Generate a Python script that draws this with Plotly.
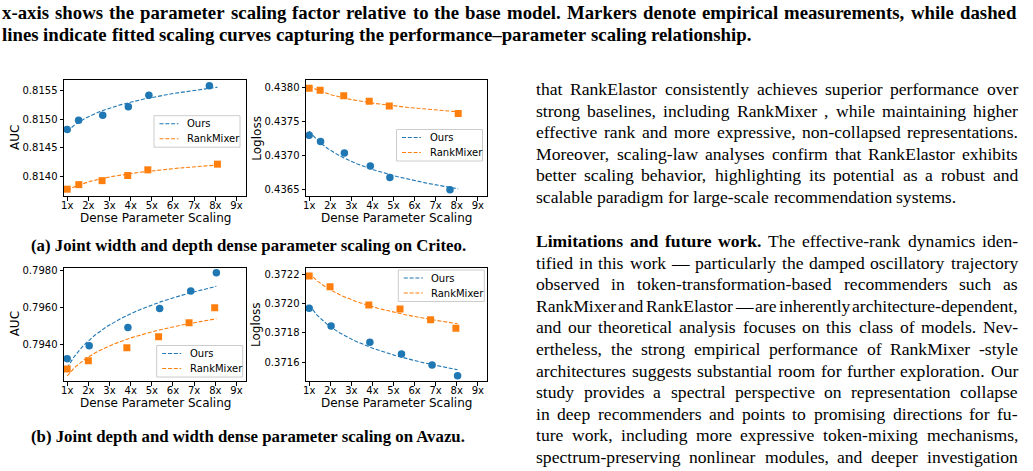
import numpy as np
import plotly.graph_objects as go

W, H = 1033, 471

# ---------------- data ----------------
x_tick_vals = [1, 2, 3, 4, 5, 6, 7, 8, 9]
x_tick_text = ["1x", "2x", "3x", "4x", "5x", "6x", "7x", "8x", "9x"]

# (a) Criteo - AUC
criteo_auc_ours_x = [1.0, 1.54, 2.68, 3.89, 4.86, 7.72]
criteo_auc_ours_y = [0.81482, 0.81498, 0.81507, 0.81522, 0.81542, 0.81559]
criteo_auc_rm_x = [1.0, 1.55, 2.65, 3.86, 4.81, 8.10]
criteo_auc_rm_y = [0.81377, 0.81385, 0.81392, 0.81401, 0.81411, 0.81421]

# (a) Criteo - Logloss
criteo_ll_ours_x = [1.0, 1.54, 2.67, 3.90, 4.83, 7.68]
criteo_ll_ours_y = [0.43730, 0.43721, 0.43704, 0.43685, 0.43668, 0.43650]
criteo_ll_rm_x = [1.0, 1.52, 2.64, 3.85, 4.80, 8.07]
criteo_ll_rm_y = [0.43799, 0.43796, 0.43788, 0.43780, 0.43773, 0.43762]

# (b) Avazu - AUC
avazu_auc_ours_x = [1.0, 2.04, 3.87, 5.37, 6.84, 8.05]
avazu_auc_ours_y = [0.79323, 0.79393, 0.79491, 0.79594, 0.79687, 0.79786]
avazu_auc_rm_x = [1.0, 2.00, 3.82, 5.32, 6.76, 7.97]
avazu_auc_rm_y = [0.79267, 0.79312, 0.79382, 0.79441, 0.79517, 0.79598]

# (b) Avazu - Logloss
avazu_ll_ours_x = [1.0, 2.04, 3.88, 5.38, 6.83, 8.04]
avazu_ll_ours_y = [0.371967, 0.371847, 0.371736, 0.371657, 0.371582, 0.371509]
avazu_ll_rm_x = [1.0, 1.99, 3.83, 5.31, 6.76, 7.96]
avazu_ll_rm_y = [0.372186, 0.372114, 0.371989, 0.371962, 0.371890, 0.371831]

criteo_auc_ticks = [0.8140, 0.8145, 0.8150, 0.8155]
criteo_ll_ticks = [0.4365, 0.4370, 0.4375, 0.4380]
avazu_auc_ticks = [0.7940, 0.7960, 0.7980]
avazu_ll_ticks = [0.3716, 0.3718, 0.3720, 0.3722]

series_names = ["Ours", "RankMixer"]

caption_top = [
    "x-axis shows the parameter scaling factor relative to the base model. Markers denote empirical measurements, while dashed",
    "lines indicate fitted scaling curves capturing the performance\u2013parameter scaling relationship.",
]
caption_a = "(a) Joint width and depth dense parameter scaling on Criteo."
caption_b = "(b) Joint depth and width dense parameter scaling on Avazu."

para1 = [
    "that RankElastor consistently achieves superior performance over",
    "strong baselines, including RankMixer , while maintaining higher",
    "effective rank and more expressive, non-collapsed representations.",
    "Moreover, scaling-law analyses confirm that RankElastor exhibits",
    "better scaling behavior, highlighting its potential as a robust and",
    "scalable paradigm for large-scale recommendation systems.",
]
para2 = [
    "<b>Limitations and future work.</b> The effective-rank dynamics iden-",
    "tified in this work \u2014 particularly the damped oscillatory trajectory",
    "observed in token-transformation-based recommenders such as",
    "RankMixer and RankElastor \u2014 are inherently architecture-dependent,",
    "and our theoretical analysis focuses on this class of models. Nev-",
    "ertheless, the strong empirical performance of RankMixer -style",
    "architectures suggests substantial room for further exploration. Our",
    "study provides a spectral perspective on representation collapse",
    "in deep recommenders and points to promising directions for fu-",
    "ture work, including more expressive token-mixing mechanisms,",
    "spectrum-preserving nonlinear modules, and deeper investigation",
]

# ---------------- helpers ----------------
BLUE = "#1f77b4"
ORANGE = "#ff7f0e"
CHART_FONT = "DejaVu Sans"
TEXT_FONT = "Liberation Serif"

# Times-compatible advance widths (per 1000 em) used to justify text lines
_REG = {' ': 250, ',': 250, '-': 333, '.': 250, ':': 278, ';': 278, '(': 333, ')': 333,
        '\u2014': 1000, '\u2013': 500,
        'A': 722, 'B': 667, 'C': 667, 'D': 722, 'E': 611, 'F': 556, 'G': 722, 'H': 722,
        'I': 333, 'J': 389, 'K': 722, 'L': 611, 'M': 889, 'N': 722, 'O': 722, 'P': 556,
        'Q': 722, 'R': 667, 'S': 556, 'T': 611, 'U': 722, 'V': 722, 'W': 944, 'X': 722,
        'Y': 722, 'Z': 611,
        'a': 444, 'b': 500, 'c': 444, 'd': 500, 'e': 444, 'f': 333, 'g': 500, 'h': 500,
        'i': 278, 'j': 278, 'k': 500, 'l': 278, 'm': 778, 'n': 500, 'o': 500, 'p': 500,
        'q': 500, 'r': 333, 's': 389, 't': 278, 'u': 500, 'v': 500, 'w': 722, 'x': 500,
        'y': 500, 'z': 444}
_BOLD = {' ': 250, ',': 250, '-': 333, '.': 250, ':': 333, ';': 333, '(': 333, ')': 333,
         '\u2014': 1000, '\u2013': 500,
         'A': 722, 'B': 667, 'C': 722, 'D': 722, 'E': 667, 'F': 611, 'G': 778, 'H': 778,
         'I': 389, 'J': 500, 'K': 778, 'L': 667, 'M': 944, 'N': 722, 'O': 778, 'P': 611,
         'Q': 778, 'R': 722, 'S': 556, 'T': 667, 'U': 722, 'V': 722, 'W': 1000, 'X': 722,
         'Y': 722, 'Z': 667,
         'a': 500, 'b': 556, 'c': 444, 'd': 556, 'e': 444, 'f': 333, 'g': 500, 'h': 556,
         'i': 278, 'j': 333, 'k': 556, 'l': 278, 'm': 833, 'n': 556, 'o': 500, 'p': 556,
         'q': 556, 'r': 444, 's': 389, 't': 333, 'u': 556, 'v': 500, 'w': 722, 'x': 500,
         'y': 500, 'z': 444}


def word_em(word, bold):
    table = _BOLD if bold else _REG
    return sum(table.get(c, 500) for c in word) / 1000.0


def px(x):
    return x / W


def py(y):
    return 1 - y / H


annotations = []


def set_line(line, x0, x1, ymid, size, justify, all_bold=False, min_gap=2.0):
    """Place one text line word by word (justified between x0 and x1)."""
    words = []
    bold = all_bold
    for tok in line.split(" "):
        if not tok:
            continue
        b_now = bold
        if tok.startswith("<b>"):
            tok = tok[3:]
            b_now = True
            bold = True
        if tok.endswith("</b>"):
            tok = tok[:-4]
            bold = all_bold
        words.append((tok, b_now))
    widths = [word_em(w, b) * size for w, b in words]
    if justify and len(words) > 1:
        gap = max((x1 - x0 - sum(widths)) / (len(words) - 1), min_gap)
    else:
        gap = 0.25 * size
    x = x0
    for (w, b), wd in zip(words, widths):
        annotations.append(dict(
            text=("<b>" + w + "</b>") if b else w, x=px(x), y=py(ymid),
            xref="paper", yref="paper", showarrow=False, xanchor="left",
            yanchor="middle", borderpad=0,
            font=dict(family=TEXT_FONT, size=size, color="black")))
        x += wd + gap


def log_fit(xs, ys, xgrid):
    b, a = np.polyfit(np.log(xs), ys, 1)
    return a + b * np.log(xgrid)


fig = go.Figure()
shapes = []

panels = [
    ("", criteo_auc_ours_x, criteo_auc_ours_y, criteo_auc_rm_x, criteo_auc_rm_y,
     (64, 246), (80, 196), (0.81365, 0.81569), criteo_auc_ticks, "AUC", (154, 115.7)),
    ("2", criteo_ll_ours_x, criteo_ll_ours_y, criteo_ll_rm_x, criteo_ll_rm_y,
     (306, 487.3), (80, 196), (0.43641, 0.43811), criteo_ll_ticks, "Logloss", (396.5, 129.5)),
    ("3", avazu_auc_ours_x, avazu_auc_ours_y, avazu_auc_rm_x, avazu_auc_rm_y,
     (64, 246), (267.7, 381), (0.79203, 0.79813), avazu_auc_ticks, "AUC", (156.7, 345.5)),
    ("4", avazu_ll_ours_x, avazu_ll_ours_y, avazu_ll_rm_x, avazu_ll_rm_y,
     (306, 487.3), (267.7, 381), (0.371473, 0.372243), avazu_ll_ticks, "Logloss", (398.3, 270)),
]

axis_title_font = dict(family=CHART_FONT, size=12, color="black")
DASH = "4px,1.8px"

for suf, ox, oy, rx, ry, xd, yd, yr, yt, ytitle, leg in panels:
    xa = "x" + suf
    ya = "y" + suf
    lo = min(min(ox), min(rx))
    hi = max(max(ox), max(rx))
    xgrid = np.linspace(lo, hi, 120)
    specs = [
        (series_names[0], ox, oy, BLUE, "circle", 7.5),
        (series_names[1], rx, ry, ORANGE, "square", 7),
    ]
    for name, xs, ys, col, sym, size in specs:
        fig.add_trace(go.Scatter(
            x=xgrid, y=log_fit(xs, ys, xgrid), mode="lines", name=name,
            line=dict(color=col, width=1.1, dash=DASH),
            xaxis=xa, yaxis=ya, showlegend=False,
        ))
    for name, xs, ys, col, sym, size in specs:
        fig.add_trace(go.Scatter(
            x=xs, y=ys, mode="markers", name=name,
            marker=dict(color=col, symbol=sym, size=size, line=dict(width=0)),
            xaxis=xa, yaxis=ya, showlegend=False,
        ))

    axis_common = dict(
        showline=True, linecolor="black", linewidth=1, mirror=True,
        ticks="outside", ticklen=3.5, tickwidth=1, tickcolor="black",
        showgrid=False, zeroline=False, automargin=False,
        tickfont=dict(family=CHART_FONT, size=10, color="black"),
    )
    fig.update_layout(**{
        ("xaxis" + suf): dict(
            domain=[px(xd[0]), px(xd[1])], range=[0.85, 9.45],
            tickvals=x_tick_vals, ticktext=x_tick_text, ticklabelstandoff=-4,
            anchor=ya, **axis_common),
        ("yaxis" + suf): dict(
            domain=[py(yd[1]), py(yd[0])], range=list(yr),
            tickvals=yt, ticktext=[f"{v:.4f}" for v in yt],
            anchor=xa, **axis_common),
    })

    # legend (matplotlib-style framed box with dashed line samples)
    lx, ly = leg
    shapes.append(dict(
        type="rect", xref="paper", yref="paper",
        x0=px(lx), x1=px(lx + 86), y0=py(ly + 31.5), y1=py(ly),
        line=dict(color="#cccccc", width=1), fillcolor="rgba(255,255,255,0.8)",
        layer="above"))
    for k, (name, col) in enumerate([(series_names[0], BLUE), (series_names[1], ORANGE)]):
        yy = ly + 8 + 15 * k
        shapes.append(dict(
            type="line", xref="paper", yref="paper",
            x0=px(lx + 5.5), x1=px(lx + 24.5), y0=py(yy), y1=py(yy),
            line=dict(color=col, width=1.1, dash=DASH), layer="above"))
        annotations.append(dict(
            text=name, x=px(lx + 32), y=py(yy), xref="paper", yref="paper",
            showarrow=False, xanchor="left", yanchor="middle", borderpad=0,
            font=dict(family=CHART_FONT, size=10, color="black")))

    # axis titles
    cx = (xd[0] + xd[1]) / 2
    annotations.append(dict(
        text="Dense Parameter Scaling", x=px(cx), y=py(yd[1] + 21.5),
        xref="paper", yref="paper", showarrow=False, xanchor="center", yanchor="middle",
        font=axis_title_font))
    tx = 15 if ytitle == "AUC" else 256.7
    annotations.append(dict(
        text=ytitle, x=px(tx), y=py((yd[0] + yd[1]) / 2), textangle=-90,
        xref="paper", yref="paper", showarrow=False, xanchor="center", yanchor="middle",
        font=axis_title_font))

# top caption (bold, justified first line)
set_line(caption_top[0], 1, 1015, 12.5, 18.8, True, all_bold=True)
set_line(caption_top[1], 1, 1015, 34.5, 18.8, False, all_bold=True)

# sub-figure captions
for cap, yy in [(caption_a, 245.5), (caption_b, 436)]:
    annotations.append(dict(
        text="<b>" + cap + "</b>", x=px(30), y=py(yy), xref="paper", yref="paper",
        showarrow=False, xanchor="left", yanchor="middle", borderpad=0,
        font=dict(family=TEXT_FONT, size=16.8, color="black")))

BODY = 17.6
for i, line in enumerate(para1):
    set_line(line, 535, 1017, 89 + i * 21.6, BODY, i < len(para1) - 1)

for i, line in enumerate(para2):
    set_line(line, 535, 1017, 241 + i * 21.6, BODY, True)

fig.update_layout(
    width=W, height=H, margin=dict(l=0, r=0, t=0, b=0),
    paper_bgcolor="white", plot_bgcolor="white",
    annotations=annotations, shapes=shapes, showlegend=False,
)

fig.write_html("out.html")
